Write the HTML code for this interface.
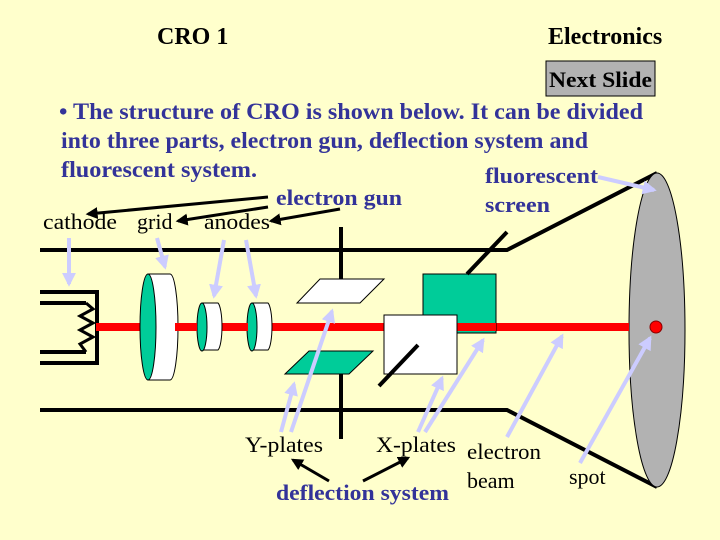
<!DOCTYPE html>
<html><head><meta charset="utf-8"><style>body{margin:0;background:#ffffcc}svg{display:block}</style></head><body>
<svg width="720" height="540" xmlns="http://www.w3.org/2000/svg" font-family="Liberation Serif, serif">
<defs>
<marker id="bk" viewBox="0 0 10 10" refX="8" refY="5" markerWidth="4" markerHeight="4" orient="auto"><path d="M0,0L10,5L0,10z" fill="#000"/></marker>
<marker id="lv" viewBox="0 0 10 10" refX="8" refY="5" markerWidth="3.5" markerHeight="3.5" orient="auto"><path d="M0,0L10,5L0,10z" fill="#ccccff"/></marker>
</defs>
<rect width="720" height="540" fill="#ffffcc"/>
<text x="157" y="44" font-size="24" font-weight="bold">CRO 1</text>
<text x="548" y="44" font-size="24" font-weight="bold">Electronics</text>
<rect x="546" y="61" width="109" height="35" fill="#b2b2b2" stroke="#000"/>
<text x="549" y="87" font-size="22" font-weight="bold" textLength="103" lengthAdjust="spacingAndGlyphs">Next Slide</text>
<g fill="#333399" font-size="23" font-weight="bold">
<text x="59" y="119" textLength="584" lengthAdjust="spacingAndGlyphs">• The structure of CRO is shown below. It can be divided</text>
<text x="61" y="148" textLength="527" lengthAdjust="spacingAndGlyphs">into three parts, electron gun, deflection system and</text>
<text x="61" y="177" textLength="196" lengthAdjust="spacingAndGlyphs">fluorescent system.</text>
<text x="485" y="183" font-size="22" textLength="113" lengthAdjust="spacingAndGlyphs">fluorescent</text>
<text x="485" y="212" font-size="22" textLength="65" lengthAdjust="spacingAndGlyphs">screen</text>
<text x="276" y="205" font-size="22" textLength="126" lengthAdjust="spacingAndGlyphs">electron gun</text>
<text x="276" y="500" font-size="22" textLength="173" lengthAdjust="spacingAndGlyphs">deflection system</text>
</g>
<g font-size="22">
<text x="43" y="229" textLength="74" lengthAdjust="spacingAndGlyphs">cathode</text><text x="137" y="229">grid</text><text x="204" y="229" textLength="66" lengthAdjust="spacingAndGlyphs">anodes</text>
<text x="245" y="452" textLength="78" lengthAdjust="spacingAndGlyphs">Y-plates</text><text x="376" y="452" textLength="80" lengthAdjust="spacingAndGlyphs">X-plates</text>
<text x="467" y="459" textLength="74" lengthAdjust="spacingAndGlyphs">electron</text><text x="467" y="488">beam</text><text x="569" y="484">spot</text>
</g>
<g stroke="#000" stroke-width="4" fill="none">
<path d="M40,250H507L657,173"/><path d="M40,410H507L657,487"/>
<path d="M40,292H97V363H40"/><path d="M40,303H86M40,352H86"/>
<path d="M86,303L93,309L80,316L93,323L80,330L93,337L80,344L86,352" stroke-width="3"/>
</g>
<ellipse cx="657" cy="330" rx="28" ry="157" fill="#b2b2b2" stroke="#000"/>
<rect x="96" y="323" width="533" height="8" fill="#ff0000"/>
<circle cx="656" cy="327" r="6" fill="#ff0000" stroke="#800" stroke-width="1"/>
<g stroke="#000" stroke-width="1">
<path d="M148,274H170A8,53 0 0 1 170,380H148z" fill="#fff"/>
<ellipse cx="148" cy="327" rx="8" ry="53" fill="#00cc99"/>
<path d="M202,303H218A5,24 0 0 1 218,350H202z" fill="#fff"/>
<ellipse cx="202" cy="327" rx="5" ry="24" fill="#00cc99"/>
<path d="M252,303H268A5,24 0 0 1 268,350H252z" fill="#fff"/>
<ellipse cx="252" cy="327" rx="5" ry="24" fill="#00cc99"/>
</g>
<rect x="175" y="323" width="22" height="8" fill="#ff0000"/>
<rect x="224" y="323" width="24" height="8" fill="#ff0000"/>
<path d="M341,227V292M341,374V439" stroke="#000" stroke-width="4"/>
<polygon points="297,303 320,279 384,279 360,303" fill="#fff" stroke="#000"/>
<polygon points="285,374 309,351 373,351 349,374" fill="#00cc99" stroke="#000"/>
<rect x="423" y="274" width="73" height="59" fill="#00cc99" stroke="#000"/>
<rect x="457" y="323" width="39" height="8" fill="#ff0000"/>
<rect x="384" y="315" width="73" height="59" fill="#fff" stroke="#000"/>
<path d="M467,274L507,232M379,386L418,345" stroke="#000" stroke-width="4"/>
<g stroke="#000" stroke-width="3" marker-end="url(#bk)">
<line x1="268" y1="197" x2="88" y2="214"/>
<line x1="268" y1="207" x2="178" y2="221"/>
<line x1="340" y1="209" x2="271" y2="221"/>
<line x1="329" y1="481" x2="293" y2="460"/>
<line x1="363" y1="481" x2="408" y2="458"/>
</g>
<g stroke="#ccccff" stroke-width="4" marker-end="url(#lv)">
<line x1="69" y1="238" x2="69" y2="284"/>
<line x1="157" y1="238" x2="165" y2="267"/>
<line x1="224" y1="240" x2="214" y2="296"/>
<line x1="246" y1="240" x2="256" y2="296"/>
<line x1="291" y1="432" x2="332" y2="311"/>
<line x1="281" y1="432" x2="294" y2="384"/>
<line x1="418" y1="432" x2="442" y2="378"/>
<line x1="425" y1="432" x2="483" y2="340"/>
<line x1="507" y1="437" x2="562" y2="336"/>
<line x1="580" y1="463" x2="650" y2="338"/>
<line x1="598" y1="177" x2="654" y2="190"/>
</g>
</svg>
</body></html>
